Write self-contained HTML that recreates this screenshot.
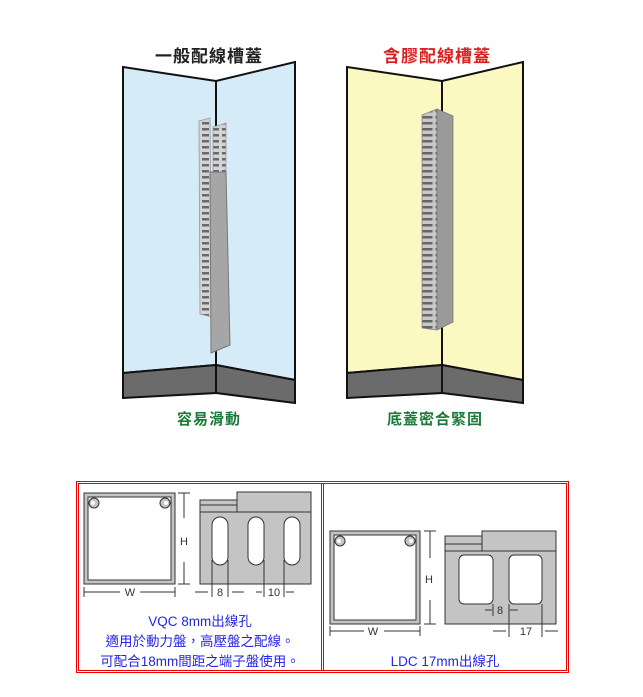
<!DOCTYPE html>
<html><head><meta charset="utf-8"><style>
body{margin:0;background:#fff;}
svg{display:block;}
text{font-family:"Liberation Sans","Noto Sans CJK TC",sans-serif;}
</style></head><body>
<svg width="643" height="697" viewBox="0 0 643 697" xmlns="http://www.w3.org/2000/svg">
<defs>
<pattern id="sl" x="0" y="0" width="10" height="6" patternUnits="userSpaceOnUse">
<rect width="10" height="6" fill="#d4d4d4"/><rect x="2" y="2" width="7" height="2.5" fill="#6a6a6a"/>
</pattern>
<pattern id="sl2" x="0" y="0" width="14" height="6" patternUnits="userSpaceOnUse">
<rect width="14" height="6" fill="#c8c8c8"/><rect x="1.5" y="2" width="11" height="2.5" fill="#666"/>
</pattern>
</defs>
<!-- Left panel -->
<text x="209" y="62" font-size="17" text-anchor="middle" fill="#222" font-weight="600" letter-spacing="1">一般配線槽蓋</text>
<polygon points="123,67 216,81 216,365 123,373" fill="#d6ebf8" stroke="#111" stroke-width="2"/>
<polygon points="216,81 295,62 295,380 216,365" fill="#d6ebf8" stroke="#111" stroke-width="2"/>
<polygon points="123,373 216,365 216,393 123,398" fill="#6b6b6b" stroke="#111" stroke-width="2"/>
<polygon points="216,365 295,380 295,403 216,393" fill="#6b6b6b" stroke="#111" stroke-width="2"/>
<polygon points="199,121 210,118 212,317 200,314" fill="url(#sl)" stroke="#999" stroke-width="0.8"/>
<polygon points="213,127 226,123 226,172 213,172" fill="url(#sl)" stroke="#999" stroke-width="0.8"/>
<polygon points="210,172 226,172 230,345 211,353" fill="#a6a6a6" stroke="#777" stroke-width="1"/>
<text x="209" y="424" font-size="15" text-anchor="middle" fill="#1a7a3a" font-weight="bold" letter-spacing="1">容易滑動</text>
<!-- Right panel -->
<text x="437" y="62" font-size="17" text-anchor="middle" fill="#d82020" font-weight="600" letter-spacing="1">含膠配線槽蓋</text>
<polygon points="347,67 442,81 442,365 347,373" fill="#fcf8c2" stroke="#111" stroke-width="2"/>
<polygon points="442,81 523,62 523,380 442,365" fill="#fcf8c2" stroke="#111" stroke-width="2"/>
<polygon points="347,373 442,365 442,393 347,398" fill="#6b6b6b" stroke="#111" stroke-width="2"/>
<polygon points="442,365 523,380 523,403 442,393" fill="#6b6b6b" stroke="#111" stroke-width="2"/>
<polygon points="422,115 437,109 437,330 422,328" fill="url(#sl2)" stroke="#888" stroke-width="0.8"/>
<polygon points="437,109 453,116 453,322 437,330" fill="#9a9a9a" stroke="#777" stroke-width="0.8"/>
<text x="435" y="424" font-size="15" text-anchor="middle" fill="#1a7a3a" font-weight="bold" letter-spacing="1">底蓋密合緊固</text>
<!-- Bottom box -->
<rect x="76.5" y="481.5" width="492" height="191" fill="none" stroke="#e00" stroke-width="1"/>
<rect x="78.5" y="483.5" width="488" height="187" fill="none" stroke="#e00" stroke-width="1"/>
<line x1="321.5" y1="483" x2="321.5" y2="671" stroke="#e00"/>
<line x1="323.5" y1="483" x2="323.5" y2="671" stroke="#e00"/>
<!-- VQC profile -->
<rect x="84" y="493" width="91" height="91" fill="#c4c4c4" stroke="#333"/>
<rect x="88" y="497" width="83" height="83" fill="#fff" stroke="#333"/>
<circle cx="94" cy="503" r="5" fill="#c4c4c4" stroke="#333"/>
<circle cx="165" cy="503" r="5" fill="#c4c4c4" stroke="#333"/>
<circle cx="93" cy="503" r="2" fill="#fff"/><circle cx="166" cy="503" r="2" fill="#fff"/>
<line x1="184" y1="493" x2="184" y2="584" stroke="#333"/>
<line x1="178" y1="493" x2="190" y2="493" stroke="#333"/><line x1="178" y1="584" x2="190" y2="584" stroke="#333"/>
<rect x="182.5" y="518" width="3" height="44" fill="#fff"/>
<text x="184" y="545" font-size="11" text-anchor="middle" fill="#333">H</text>
<line x1="84" y1="592" x2="175" y2="592" stroke="#333"/>
<line x1="84" y1="587" x2="84" y2="597" stroke="#333"/><line x1="175" y1="587" x2="175" y2="597" stroke="#333"/>
<rect x="120" y="588" width="20" height="8" fill="#fff"/>
<text x="130" y="596" font-size="11" text-anchor="middle" fill="#333">W</text>
<!-- VQC side -->
<rect x="200" y="500" width="111" height="84" fill="#c4c4c4" stroke="#333"/>
<rect x="237" y="492" width="74" height="20" fill="#c4c4c4" stroke="#333"/>
<line x1="200" y1="505" x2="237" y2="505" stroke="#333"/><line x1="200" y1="512" x2="311" y2="512" stroke="#333"/>
<rect x="212" y="517" width="16" height="48" rx="8" fill="#fff" stroke="#333"/>
<rect x="248" y="517" width="16" height="48" rx="8" fill="#fff" stroke="#333"/>
<rect x="284" y="517" width="16" height="48" rx="8" fill="#fff" stroke="#333"/>
<g stroke="#333"><line x1="212" y1="560" x2="212" y2="597"/><line x1="228" y1="560" x2="228" y2="597"/><line x1="264" y1="560" x2="264" y2="597"/><line x1="284" y1="560" x2="284" y2="597"/>
<line x1="195" y1="592" x2="208" y2="592"/><line x1="232" y1="592" x2="244" y2="592"/><line x1="256" y1="592" x2="262" y2="592"/><line x1="286" y1="592" x2="294" y2="592"/></g>
<text x="220" y="596" font-size="11" text-anchor="middle" fill="#333">8</text>
<text x="274" y="596" font-size="11" text-anchor="middle" fill="#333">10</text>
<g font-size="13.5" text-anchor="middle" fill="#2424e6">
<text x="200" y="626">VQC 8mm出線孔</text>
<text x="200" y="646">適用於動力盤，高壓盤之配線。</text>
<text x="200" y="666">可配合18mm間距之端子盤使用。</text>
<text x="445" y="666">LDC 17mm出線孔</text>
</g>
<!-- LDC profile -->
<rect x="330" y="531" width="90" height="93" fill="#c4c4c4" stroke="#333"/>
<rect x="334" y="535" width="82" height="85" fill="#fff" stroke="#333"/>
<circle cx="340" cy="541" r="5" fill="#c4c4c4" stroke="#333"/>
<circle cx="410" cy="541" r="5" fill="#c4c4c4" stroke="#333"/>
<circle cx="339" cy="541" r="2" fill="#fff"/><circle cx="411" cy="541" r="2" fill="#fff"/>
<line x1="430" y1="531" x2="430" y2="624" stroke="#333"/>
<line x1="424" y1="531" x2="436" y2="531" stroke="#333"/><line x1="424" y1="624" x2="436" y2="624" stroke="#333"/>
<rect x="428.5" y="558" width="3" height="42" fill="#fff"/>
<text x="429" y="583" font-size="11" text-anchor="middle" fill="#333">H</text>
<line x1="330" y1="631" x2="420" y2="631" stroke="#333"/>
<line x1="330" y1="626" x2="330" y2="636" stroke="#333"/><line x1="420" y1="626" x2="420" y2="636" stroke="#333"/>
<rect x="364" y="626" width="20" height="9" fill="#fff"/>
<text x="373" y="635" font-size="11" text-anchor="middle" fill="#333">W</text>
<!-- LDC side -->
<rect x="445" y="536" width="111" height="88" fill="#c4c4c4" stroke="#333"/>
<rect x="482" y="531" width="74" height="20" fill="#c4c4c4" stroke="#333"/>
<line x1="445" y1="544" x2="482" y2="544" stroke="#333"/><line x1="445" y1="551" x2="556" y2="551" stroke="#333"/>
<rect x="459" y="555" width="34" height="49" rx="5" fill="#fff" stroke="#333"/>
<rect x="509" y="555" width="33" height="49" rx="5" fill="#fff" stroke="#333"/>
<g stroke="#333"><line x1="493" y1="604" x2="493" y2="616"/><line x1="509" y1="604" x2="509" y2="637"/><line x1="542" y1="604" x2="542" y2="637"/>
<line x1="485" y1="610" x2="492" y2="610"/><line x1="510" y1="610" x2="518" y2="610"/>
<line x1="493" y1="631" x2="506" y2="631"/><line x1="545" y1="631" x2="558" y2="631"/></g>
<text x="500" y="614" font-size="11" text-anchor="middle" fill="#333">8</text>
<text x="526" y="635" font-size="11" text-anchor="middle" fill="#333">17</text>
</svg>
</body></html>
